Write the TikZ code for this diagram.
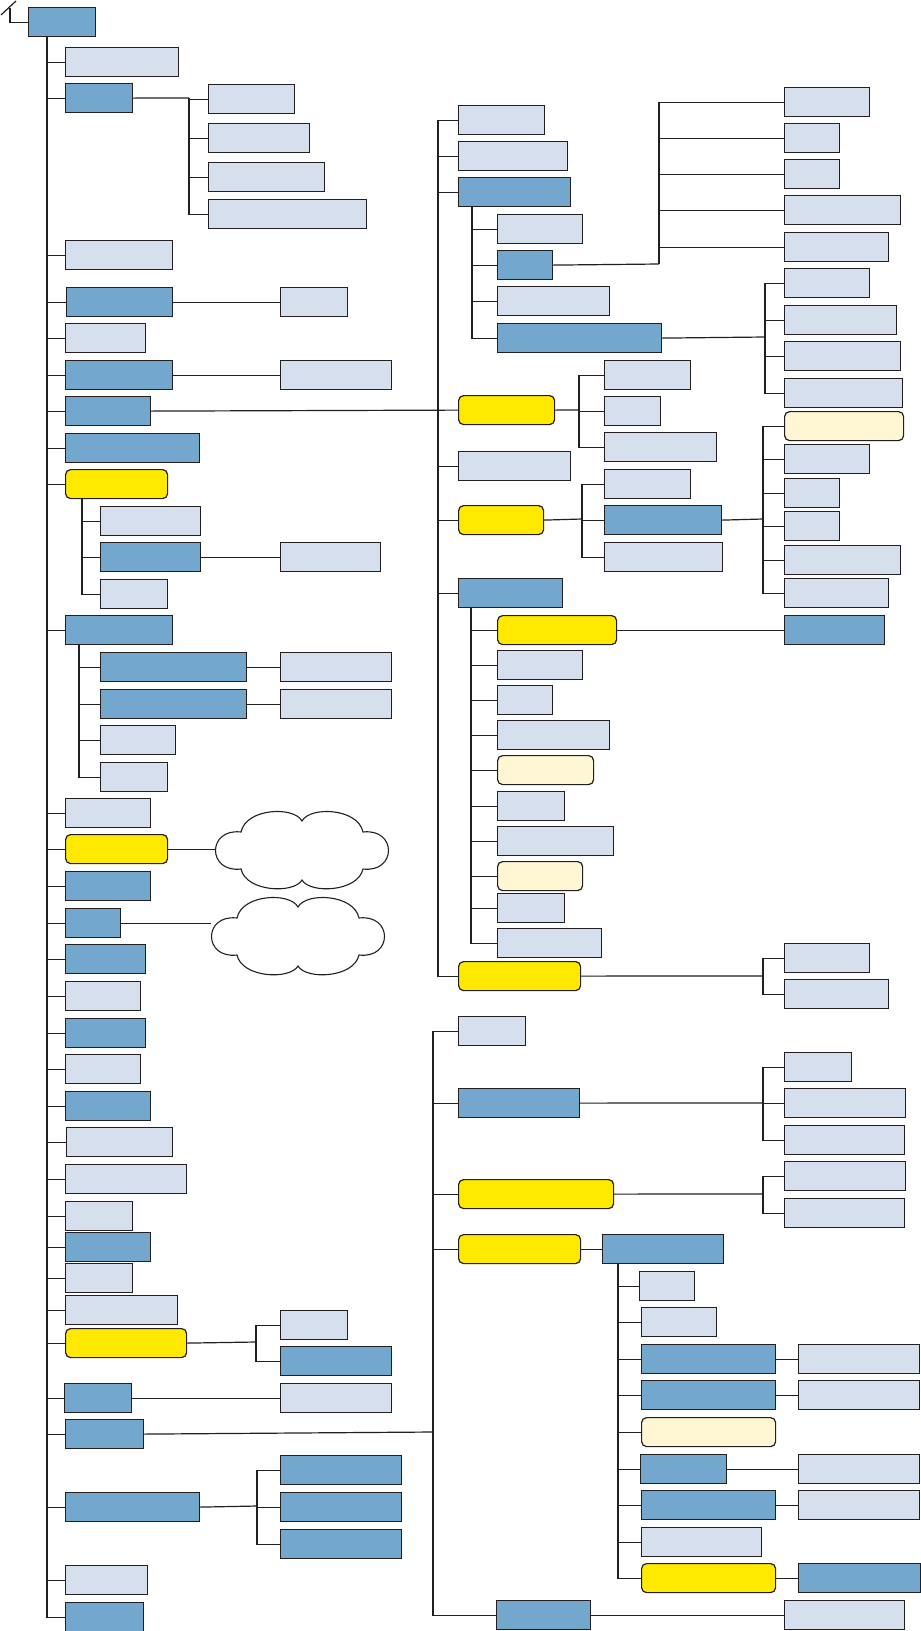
\documentclass[tikz,border=0pt]{standalone}
\usepackage{xcolor,tikz}
\definecolor{ink}{HTML}{231F20}
\definecolor{darkfill}{HTML}{73A7CE}
\definecolor{lightfill}{HTML}{D6DFED}
\definecolor{yelfill}{HTML}{FFE900}
\definecolor{creamfill}{HTML}{FFF6D4}

\begin{document}
\begin{tikzpicture}[
  x=1pt, y=-1pt,
  box/.style={draw=ink, line width=1.2pt, anchor=north west, inner sep=0pt, minimum height=29},
  dbox/.style={box, fill=darkfill},
  lbox/.style={box, fill=lightfill},
  ybox/.style={box, fill=yelfill, rounded corners=5pt},
  cbox/.style={box, fill=creamfill, rounded corners=5pt},
  cloudspot/.style={inner sep=0pt, minimum width=174, minimum height=76},
  cloudline/.style={draw=ink, line width=1.1pt, fill=white},
  link/.style={draw=ink, line width=1.2pt}
]
\useasboundingbox (0,0) rectangle (921,1631);

% left column
\node[dbox, minimum width=67] (root) at (28,7) {};
\node[lbox, minimum width=113] (l1) at (65,47) {};
\node[dbox, minimum width=67] (l2) at (65,83) {};
\node[lbox, minimum width=86] (l2a) at (208,84) {};
\node[lbox, minimum width=101] (l2b) at (208,123) {};
\node[lbox, minimum width=116] (l2c) at (208,162) {};
\node[lbox, minimum width=158] (l2d) at (208,199) {};
\node[lbox, minimum width=107] (l3) at (65,240) {};
\node[dbox, minimum width=106] (l4) at (66,287) {};
\node[lbox, minimum width=67] (l4a) at (280,287) {};
\node[lbox, minimum width=80] (l5) at (65,323) {};
\node[dbox, minimum width=107] (l6) at (65,360) {};
\node[lbox, minimum width=111] (l6a) at (280,360) {};
\node[dbox, minimum width=85] (l7) at (65,396) {};
\node[dbox, minimum width=134] (l8) at (65,433) {};
\node[ybox, minimum width=102] (l9) at (65,469) {};
\node[lbox, minimum width=100] (l9a) at (100,506) {};
\node[dbox, minimum width=100] (l9b) at (100,542) {};
\node[lbox, minimum width=100] (l9x) at (280,542) {};
\node[lbox, minimum width=67] (l9c) at (100,579) {};
\node[dbox, minimum width=107] (l10) at (65,615) {};
\node[dbox, minimum width=146] (l10a) at (100,652) {};
\node[lbox, minimum width=111] (l10x) at (280,652) {};
\node[dbox, minimum width=146] (l10b) at (100,689) {};
\node[lbox, minimum width=111] (l10y) at (280,689) {};
\node[lbox, minimum width=75] (l10c) at (100,725) {};
\node[lbox, minimum width=67] (l10d) at (100,762) {};
\node[lbox, minimum width=85] (l11) at (65,798) {};
\node[ybox, minimum width=102] (l12) at (65,834) {};
\node[cloudspot] (cloud1) at (302,850) {};
\node[dbox, minimum width=85] (l13) at (65,871) {};
\node[dbox, minimum width=55] (l14) at (65,908) {};
\node[cloudspot] (cloud2) at (298,936) {};
\node[dbox, minimum width=80] (l15) at (65,944) {};
\node[lbox, minimum width=75] (l16) at (65,981) {};
\node[dbox, minimum width=80] (l17) at (65,1018) {};
\node[lbox, minimum width=75] (l18) at (65,1054) {};
\node[dbox, minimum width=85] (l19) at (65,1091) {};
\node[lbox, minimum width=106] (l20) at (66,1127) {};
\node[lbox, minimum width=121] (l21) at (65,1164) {};
\node[lbox, minimum width=67] (l22) at (65,1201) {};
\node[dbox, minimum width=85] (l23) at (65,1232) {};
\node[lbox, minimum width=67] (l24) at (65,1263) {};
\node[lbox, minimum width=112] (l25) at (65,1295) {};
\node[ybox, minimum width=121] (l26) at (65,1328) {};
\node[lbox, minimum width=67] (l26a) at (280,1310) {};
\node[dbox, minimum width=111] (l26b) at (280,1346) {};
\node[dbox, minimum width=67] (l27) at (64,1383) {};
\node[lbox, minimum width=111] (l27a) at (280,1383) {};
\node[dbox, minimum width=78] (l28) at (65,1419) {};
\node[dbox, minimum width=134] (l29) at (65,1492) {};
\node[dbox, minimum width=121] (l29a) at (280,1455) {};
\node[dbox, minimum width=121] (l29b) at (280,1492) {};
\node[dbox, minimum width=121] (l29c) at (280,1529) {};
\node[lbox, minimum width=82] (l30) at (65,1565) {};
\node[dbox, minimum width=78] (l31) at (65,1602) {};

% upper right
\node[lbox, minimum width=86] (r1) at (458,105) {};
\node[lbox, minimum width=109] (r2) at (458,141) {};
\node[dbox, minimum width=112] (r3) at (458,177) {};
\node[lbox, minimum width=85] (r3a) at (497,214) {};
\node[dbox, minimum width=55] (r3b) at (497,250) {};
\node[lbox, minimum width=85] (r3b1) at (784,87) {};
\node[lbox, minimum width=55] (r3b2) at (784,123) {};
\node[lbox, minimum width=55] (r3b3) at (784,159) {};
\node[lbox, minimum width=116] (r3b4) at (784,195) {};
\node[lbox, minimum width=104] (r3b5) at (784,232) {};
\node[lbox, minimum width=112] (r3c) at (497,286) {};
\node[dbox, minimum width=164] (r3d) at (497,323) {};
\node[lbox, minimum width=85] (r3d1) at (784,268) {};
\node[lbox, minimum width=112] (r3d2) at (784,305) {};
\node[lbox, minimum width=116] (r3d3) at (784,341) {};
\node[lbox, minimum width=118] (r3d4) at (784,378) {};
\node[ybox, minimum width=96] (r4) at (458,395) {};
\node[lbox, minimum width=86] (r4a) at (604,360) {};
\node[lbox, minimum width=56] (r4b) at (604,396) {};
\node[lbox, minimum width=112] (r4c) at (604,432) {};
\node[lbox, minimum width=112] (r5) at (458,451) {};
\node[ybox, minimum width=85] (r6) at (458,505) {};
\node[lbox, minimum width=86] (r6a) at (604,469) {};
\node[dbox, minimum width=117] (r6b) at (604,505) {};
\node[lbox, minimum width=118] (r6c) at (604,542) {};
\node[cbox, minimum width=119] (r6b1) at (784,411) {};
\node[lbox, minimum width=85] (r6b2) at (784,444) {};
\node[lbox, minimum width=55] (r6b3) at (784,478) {};
\node[lbox, minimum width=55] (r6b4) at (784,511) {};
\node[lbox, minimum width=116] (r6b5) at (784,545) {};
\node[lbox, minimum width=104] (r6b6) at (784,578) {};
\node[dbox, minimum width=104] (r7) at (458,578) {};
\node[ybox, minimum width=119] (r7a) at (497,615) {};
\node[dbox, minimum width=100] (r7x) at (784,615) {};
\node[lbox, minimum width=85] (r7b) at (497,650) {};
\node[lbox, minimum width=55] (r7c) at (497,685) {};
\node[lbox, minimum width=112] (r7d) at (497,720) {};
\node[cbox, minimum width=96] (r7e) at (497,755) {};
\node[lbox, minimum width=67] (r7f) at (497,791) {};
\node[lbox, minimum width=116] (r7g) at (497,826) {};
\node[cbox, minimum width=85] (r7h) at (497,861) {};
\node[lbox, minimum width=67] (r7i) at (497,893) {};
\node[lbox, minimum width=104] (r7j) at (497,928) {};
\node[ybox, minimum width=122] (r8) at (458,961) {};
\node[lbox, minimum width=85] (r8a) at (784,943) {};
\node[lbox, minimum width=104] (r8b) at (784,979) {};

% lower right
\node[lbox, minimum width=67] (s1) at (458,1016) {};
\node[dbox, minimum width=121] (s2) at (458,1088) {};
\node[lbox, minimum width=67] (s2a) at (784,1052) {};
\node[lbox, minimum width=121] (s2b) at (784,1088) {};
\node[lbox, minimum width=120] (s2c) at (784,1125) {};
\node[ybox, minimum width=155] (s3) at (458,1179) {};
\node[lbox, minimum width=121] (s3a) at (784,1161) {};
\node[lbox, minimum width=120] (s3b) at (784,1198) {};
\node[ybox, minimum width=122] (s4) at (458,1234) {};
\node[dbox, minimum width=121] (s4x) at (602,1234) {};
\node[lbox, minimum width=55] (s4a) at (639,1271) {};
\node[lbox, minimum width=75] (s4b) at (641,1307) {};
\node[dbox, minimum width=134] (s4c) at (641,1344) {};
\node[lbox, minimum width=121] (s4c1) at (798,1344) {};
\node[dbox, minimum width=134] (s4d) at (641,1380) {};
\node[lbox, minimum width=121] (s4d1) at (798,1380) {};
\node[cbox, minimum width=134] (s4e) at (641,1417) {};
\node[dbox, minimum width=86] (s4f) at (640,1454) {};
\node[lbox, minimum width=121] (s4f1) at (798,1454) {};
\node[dbox, minimum width=134] (s4g) at (641,1490) {};
\node[lbox, minimum width=121] (s4g1) at (798,1490) {};
\node[lbox, minimum width=120] (s4h) at (641,1527) {};
\node[ybox, minimum width=134] (s4i) at (641,1563) {};
\node[dbox, minimum width=122] (s4i1) at (798,1563) {};
\node[dbox, minimum width=94] (s5) at (496,1600) {};
\node[lbox, minimum width=120] (s5a) at (784,1600) {};

% junctions
\coordinate (rt) at (10,8);
\coordinate (t0) at (47,37);
\coordinate (f2) at (189,98);
\coordinate (t9) at (82,498);
\coordinate (t10) at (79,644);
\coordinate (f26) at (256,1342);
\coordinate (f29) at (257,1506);
\coordinate (u0) at (438,410);
\coordinate (t3) at (472,206);
\coordinate (f3b) at (659,264);
\coordinate (f3d) at (765,337);
\coordinate (f4) at (579,410);
\coordinate (f6) at (582,519);
\coordinate (f6b) at (763,519);
\coordinate (t7) at (471,607);
\coordinate (f8) at (763,976);
\coordinate (w0) at (433,1432);
\coordinate (f2s) at (763,1103);
\coordinate (f3s) at (763,1194);
\coordinate (t4) at (618,1263);

\draw[link] (root.west) -| (rt);
\draw[link] (1,15) -- (16,1);
\foreach \n in {l1,l2,l3,l4,l5,l6,l7,l8,l9,l10,l11,l12,l13,l14,l15,l16,l17,l18,l19,l20,l21,l22,l23,l24,l25,l26,l27,l28,l29,l30,l31}
  \draw[link] (t0) |- (\n.west);
\draw[link] (l2.east) -- (f2);
\foreach \n in {l2a,l2b,l2c,l2d} \draw[link] (f2) |- (\n.west);
\foreach \n in {l9a,l9b,l9c} \draw[link] (t9) |- (\n.west);
\foreach \n in {l10a,l10b,l10c,l10d} \draw[link] (t10) |- (\n.west);
\draw[link] (l26.east) -- (f26);
\foreach \n in {l26a,l26b} \draw[link] (f26) |- (\n.west);
\draw[link] (l29.east) -- (f29);
\foreach \n in {l29a,l29b,l29c} \draw[link] (f29) |- (\n.west);
\draw[link] (l4) -- (l4a);
\draw[link] (l6) -- (l6a);
\draw[link] (l9b) -- (l9x);
\draw[link] (l10a) -- (l10x);
\draw[link] (l10b) -- (l10y);
\draw[link] (l27) -- (l27a);
\draw[link] (l12.east) -- (l12.east -| cloud1.west);
\draw[link] (l14.east) -- (l14.east -| cloud2.west);
\foreach \c in {cloud1,cloud2}
  \draw[cloudline, shift={(\c.center)}] (-61,-18)
    .. controls (-56,-42) and (-8,-44) .. (0,-29)
    .. controls (8,-44) and (56,-42) .. (61,-18)
    .. controls (95,-22) and (95,23) .. (61,19)
    .. controls (56,42) and (8,44) .. (0,30)
    .. controls (-8,44) and (-56,42) .. (-61,19)
    .. controls (-95,23) and (-95,-22) .. cycle;

\draw[link] (l7.east) -- (r4.west);
\foreach \n in {r1,r2,r3,r5,r6,r7,r8} \draw[link] (u0) |- (\n.west);
\foreach \n in {r3a,r3b,r3c,r3d} \draw[link] (t3) |- (\n.west);
\draw[link] (r3b.east) -- (f3b);
\foreach \n in {r3b1,r3b2,r3b3,r3b4,r3b5} \draw[link] (f3b) |- (\n.west);
\draw[link] (r3d.east) -- (f3d);
\foreach \n in {r3d1,r3d2,r3d3,r3d4} \draw[link] (f3d) |- (\n.west);
\draw[link] (r4.east) -- (f4);
\foreach \n in {r4a,r4b,r4c} \draw[link] (f4) |- (\n.west);
\draw[link] (r6.east) -- (f6);
\foreach \n in {r6a,r6b,r6c} \draw[link] (f6) |- (\n.west);
\draw[link] (r6b.east) -- (f6b);
\foreach \n in {r6b1,r6b2,r6b3,r6b4,r6b5,r6b6} \draw[link] (f6b) |- (\n.west);
\foreach \n in {r7a,r7b,r7c,r7d,r7e,r7f,r7g,r7h,r7i,r7j} \draw[link] (t7) |- (\n.west);
\draw[link] (r7a) -- (r7x);
\draw[link] (r8.east) -- (f8);
\foreach \n in {r8a,r8b} \draw[link] (f8) |- (\n.west);

\draw[link] (l28.east) -- (w0);
\foreach \n in {s1,s2,s3,s4,s5} \draw[link] (w0) |- (\n.west);
\draw[link] (s2.east) -- (f2s);
\foreach \n in {s2a,s2b,s2c} \draw[link] (f2s) |- (\n.west);
\draw[link] (s3.east) -- (f3s);
\foreach \n in {s3a,s3b} \draw[link] (f3s) |- (\n.west);
\draw[link] (s4) -- (s4x);
\foreach \n in {s4a,s4b,s4c,s4d,s4e,s4f,s4g,s4h,s4i} \draw[link] (t4) |- (\n.west);
\draw[link] (s4c) -- (s4c1);
\draw[link] (s4d) -- (s4d1);
\draw[link] (s4f) -- (s4f1);
\draw[link] (s4g) -- (s4g1);
\draw[link] (s4i) -- (s4i1);
\draw[link] (s5) -- (s5a);
\end{tikzpicture}
\end{document}
